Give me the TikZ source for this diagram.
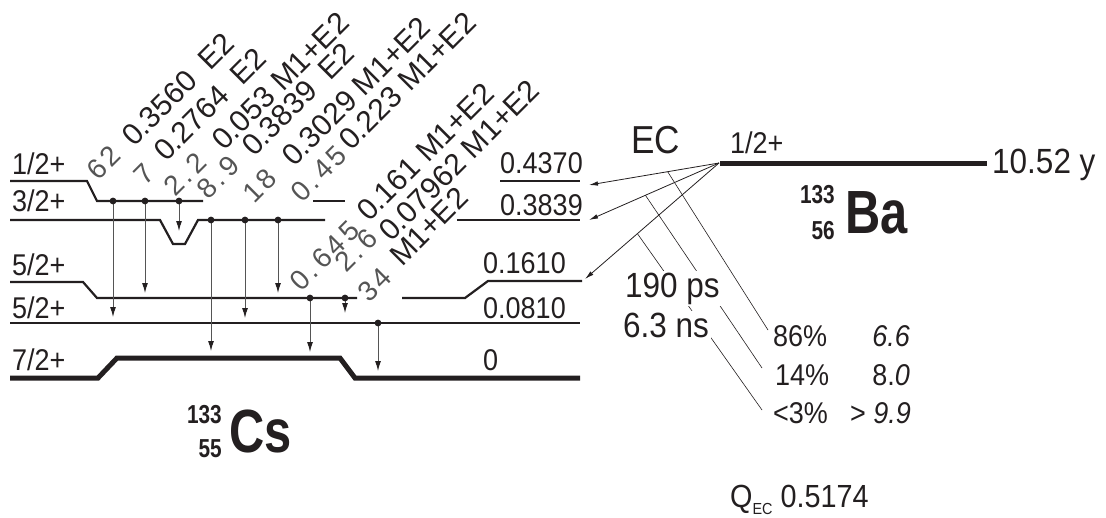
\documentclass[tikz,border=0pt]{standalone}
\usepackage{fontspec}
\setmainfont{Liberation Sans}[FakeStretch=0.9]
\newfontfamily\gamfont{Liberation Sans}
\newfontfamily\thinfont{Liberation Sans}[LetterSpace=14]
\newfontfamily\elemfont{Liberation Sans}[FakeStretch=0.8]
\usepackage{tikz}
\usetikzlibrary{arrows.meta}
\definecolor{ink}{RGB}{35,31,32}
\definecolor{faint}{RGB}{85,85,85}

\begin{document}
\begin{tikzpicture}[x=1pt, y=-1pt, text=ink,
  lvl/.style={draw=ink, line width=2.2pt},
  gslvl/.style={draw=ink, line width=5pt},
  gam/.style={draw=faint, line width=1pt, -{Latex[length=10pt,width=6pt,color=ink]}},
  ecarr/.style={draw=ink, line width=0.8pt, -{Latex[length=9pt,width=4.5pt]}},
  lead/.style={draw=ink, line width=0.6pt},
  spin/.style={font=\fontsize{30}{36}\selectfont, anchor=base west, inner sep=0pt},
  egam/.style={font=\gamfont\fontsize{30}{34}\selectfont, rotate=45, anchor=base west, inner sep=0pt},
  igam/.style={font=\thinfont\fontsize{28}{32}\selectfont, text=faint, rotate=45, anchor=base west, inner sep=0pt},
  big/.style={font=\fontsize{35}{40}\selectfont, anchor=base west, inner sep=0pt},
  elem/.style={font=\elemfont\bfseries\fontsize{61}{66}\selectfont, anchor=base west, inner sep=0pt},
  nucl/.style={font=\elemfont\bfseries\fontsize{26}{28}\selectfont, anchor=base east, inner sep=0pt}]
\useasboundingbox (0,0) rectangle (1106,517);

% levels of 133Cs
\draw[lvl] (10,181) -- (87,181) -- (97,201) -- (203,201);
\draw[lvl] (313,201) -- (345,201);
\draw[lvl] (500,181) -- (580,181);
\draw[lvl] (10,220) -- (160,220) -- (173,244) -- (185,244) -- (198,220) -- (325,220);
\draw[lvl] (457,220) -- (580,220);
\draw[lvl] (10,282) -- (83,282) -- (97,298) -- (357,298);
\draw[lvl] (402,298) -- (465,298) -- (488,281) -- (582,281);
\draw[lvl] (10,323) -- (580,323);
\draw[gslvl] (10,378) -- (98,378) -- (117,358) -- (340,358) -- (355,378) -- (580,378);

\node[spin] (s437) at (12,174) {1/2+};
\node[spin] (s384) at (12,211) {3/2+};
\node[spin] (s161) at (12,275) {5/2+};
\node[spin] (s081) at (12,318) {5/2+};
\node[spin] (s0)   at (12,370) {7/2+};

\node[spin] (e437) at (500,173) {0.4370};
\node[spin] (e384) at (500,215) {0.3839};
\node[spin] (e161) at (483,273) {0.1610};
\node[spin] (e081) at (483,318) {0.0810};
\node[spin] (e0)   at (483,370) {0};

% gamma transitions
\foreach \x/\ya/\yb in {113/201/317, 145/201/293, 179/201/231, 211/220/351, 245/220/318,
                        278/220/293, 310/298/352, 345/298/313, 378/323/371}{
  \draw[gam] (\x,\ya) -- (\x,\yb);
  \fill[ink] (\x,\ya) circle (3.4pt);
}

\foreach \x/\y/\t [count=\k] in {98/182/62, 145/187/7, 175/198/2.2, 208/201/8.9, 254/205/18,
                                 302/204/0.45, 301/293/0.645, 346/274/2.6, 369/304/34}
  \node[igam] (int\k) at (\x,\y) {\t};

\foreach \x/\y/\t [count=\k] in {134/148/{0.3560\ \ E2}, 166/163/{0.2764\ \ E2}, 224/152/{0.053 M1+E2},
                                 254/158/{0.3839\ \ E2}, 294/168/{0.3029 M1+E2}, 351/152/{0.223 M1+E2},
                                 369/223/{0.161 M1+E2}, 391/243/{0.07962 M1+E2}, 402/268/{M1+E2}}
  \node[egam] (gam\k) at (\x,\y) {\t};

\node[nucl] (csa) at (222,423) {133};
\node[nucl] (csz) at (222,457) {55};
\node[elem] (cs) at (229,452) {Cs};

% 133Ba and EC branches
\draw[draw=ink, line width=5pt] (720,163) -- (987,163);
\coordinate (ba) at (719,163);
\node[spin] (sba) at (730,153) {1/2+};
\node[big] (tba) at (992,173) {10.52 y};
\node[font=\fontsize{39}{44}\selectfont, anchor=base west, inner sep=0pt] (ec) at (631,153) {EC};
\node[nucl] (baa) at (835,203) {133};
\node[nucl] (baz) at (835,239) {56};
\node[elem] (bael) at (845,233) {Ba};

\coordinate (t437) at (589,185);
\coordinate (t384) at (589,220);
\coordinate (t161) at (585,279);
\draw[ecarr] (ba) -- coordinate[pos=0.395] (k86) (t437);
\draw[ecarr] (ba) -- coordinate[pos=0.566] (k14) (t384);
\draw[ecarr] (ba) -- coordinate[pos=0.609] (k3) (t161);

\coordinate (a86) at (768,330);
\coordinate (a14) at (762,368);
\coordinate (a3) at (762,410);
\draw[lead] (k86) -- (a86);
\draw[lead] (k14) -- (a14);
\draw[lead] (k3) -- (a3);

\node[big, fill=white, inner sep=2pt] (hl1) at (623,297) {190 ps};
\node[big, fill=white, inner sep=2pt] (hl2) at (621,337) {6.3 ns};

\node[spin] (p86) at (773,346) {86\%};
\node[spin] (p14) at (775,385) {14\%};
\node[spin] (p3)  at (773,423) {<3\%};
\node[spin, anchor=base east] (f86) at (910,346) {\itshape 6.6};
\node[spin, anchor=base east] (f14) at (910,385) {8.\textit{0}};
\node[spin, anchor=base east] (f3)  at (911,423) {> \textit{9.9}};

\node[spin, font=\fontsize{32}{36}\selectfont] (qec) at (730,507)
  {Q\raisebox{-7pt}{\fontsize{16}{16}\selectfont EC} 0.5174};
\end{tikzpicture}
\end{document}
